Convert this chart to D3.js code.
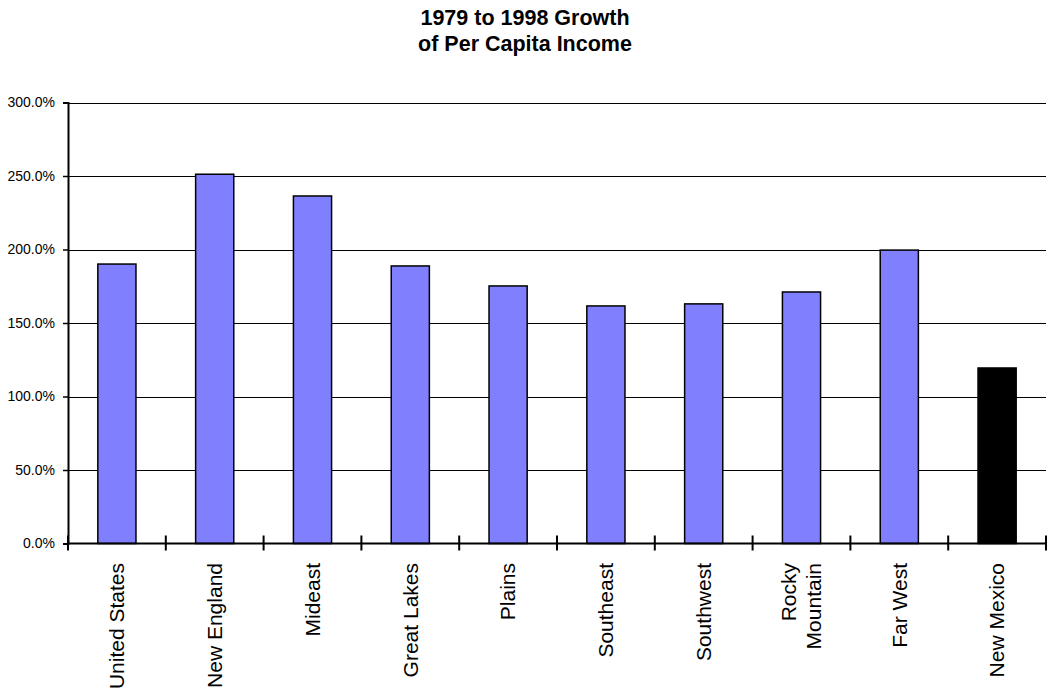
<!DOCTYPE html>
<html>
<head>
<meta charset="utf-8">
<script src="https://cdn.jsdelivr.net/npm/d3@7"></script>
<style>
  html, body { margin: 0; padding: 0; background: #fff; }
  svg { display: block; font-family: "Liberation Sans", Arial, sans-serif; }
</style>
</head>
<body>
<svg id="chart" width="1048" height="698"></svg>
<script>
// Regions compared, with their per-capita income growth 1979-1998 (percent)
const regions = ["United States", "New England", "Mideast", "Great Lakes", "Plains",
                 "Southeast", "Southwest", "Rocky Mountain", "Far West", "New Mexico"];
const labelLines = [["United States"], ["New England"], ["Mideast"], ["Great Lakes"], ["Plains"],
                    ["Southeast"], ["Southwest"], ["Rocky", "Mountain"], ["Far West"], ["New Mexico"]];
const growth = [190.1, 251.2, 236.4, 188.8, 175.2, 161.6, 163.0, 171.1, 199.6, 119.4];
const highlight = "New Mexico";
const yTicks = [0, 50, 100, 150, 200, 250, 300];
const titleLines = ["1979 to 1998 Growth", "of Per Capita Income"];

const svg = d3.select("#chart");
const plot = { left: 68, right: 1046, top: 102.5, bottom: 543.5 };

const x = d3.scaleBand().domain(regions).range([plot.left, plot.right]).padding(0);
const y = d3.scaleLinear().domain([0, 300]).range([plot.bottom, plot.top]);
const barW = x.bandwidth() * 0.39;

// Title
svg.append("g").selectAll("text").data(titleLines).join("text")
  .attr("x", 525).attr("y", (d, i) => 25 + i * 26)
  .attr("text-anchor", "middle")
  .attr("font-size", "21.5px").attr("font-weight", "bold")
  .attr("fill", "#000").text(d => d);

// Horizontal gridlines
svg.append("g").selectAll("line").data(yTicks.filter(t => t > 0)).join("line")
  .attr("x1", plot.left).attr("x2", plot.right)
  .attr("y1", d => Math.round(y(d)) + 0.5).attr("y2", d => Math.round(y(d)) + 0.5)
  .attr("stroke", "#000").attr("stroke-width", 1);

// Bars
svg.append("g").selectAll("rect").data(regions).join("rect")
  .attr("x", d => x(d) + (x.bandwidth() - barW) / 2)
  .attr("width", barW)
  .attr("y", (d, i) => y(growth[i]))
  .attr("height", (d, i) => y(0) - y(growth[i]))
  .attr("fill", d => d === highlight ? "#000" : "#8080FF")
  .attr("stroke", "#000").attr("stroke-width", 1.5);

// Y axis
const yAxis = d3.axisLeft(y).tickValues(yTicks).tickSize(5).tickPadding(8)
  .tickFormat(d => d.toFixed(1) + "%");
const gy = svg.append("g").attr("transform", `translate(${plot.left},0)`).call(yAxis);
gy.select(".domain").attr("stroke", "#000").attr("stroke-width", 2);
gy.selectAll(".tick line").attr("stroke", "#000").attr("stroke-width", 1.5);
gy.selectAll(".tick text").attr("font-size", "14px").attr("fill", "#000")
  .attr("font-family", "'Liberation Sans', Arial, sans-serif");

// X axis line and category separator ticks
svg.append("line")
  .attr("x1", plot.left - 1).attr("x2", plot.right)
  .attr("y1", plot.bottom).attr("y2", plot.bottom)
  .attr("stroke", "#000").attr("stroke-width", 2);
const bounds = regions.map(d => x(d)).concat([plot.right]);
svg.append("g").selectAll("line").data(bounds).join("line")
  .attr("x1", d => d).attr("x2", d => d)
  .attr("y1", plot.bottom - 8).attr("y2", plot.bottom + 7)
  .attr("stroke", "#000").attr("stroke-width", 2);

// Rotated category labels
const lg = svg.append("g").selectAll("g").data(regions).join("g")
  .attr("transform", d => `translate(${x(d) + x.bandwidth() / 2},563) rotate(-90)`);
lg.each(function (d, i) {
  const lines = labelLines[i];
  const g = d3.select(this);
  lines.forEach((t, j) => {
    g.append("text")
      .attr("x", 0)
      .attr("y", (j - (lines.length - 1) / 2) * 25)
      .attr("dy", "0.35em")
      .attr("text-anchor", "end")
      .attr("font-size", "21px").attr("fill", "#000")
      .text(t);
  });
});
</script>
</body>
</html>
